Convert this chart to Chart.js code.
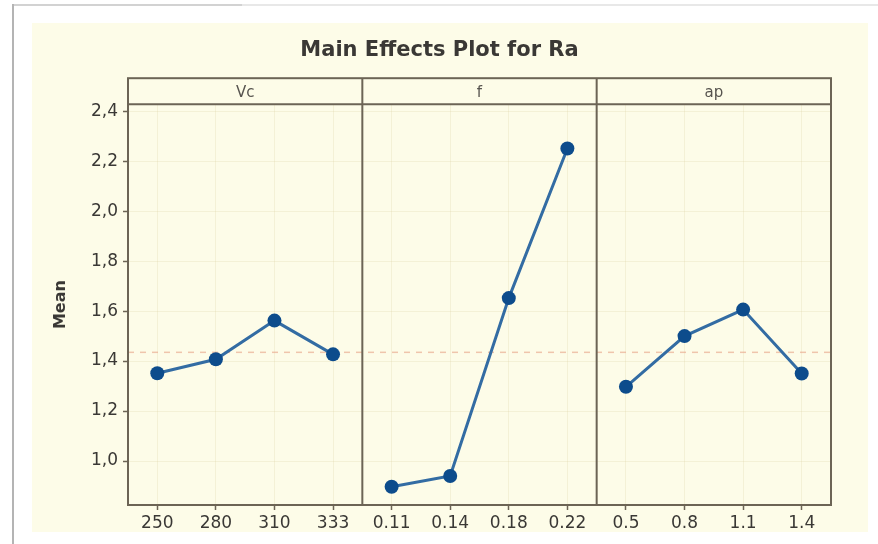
<!DOCTYPE html>
<html>
<head>
<meta charset="utf-8">
<script src="https://cdn.jsdelivr.net/npm/chart.js@4.4.1/dist/chart.umd.min.js"></script>
<style>
    body { margin: 0; background: #ffffff; }
    #wrap { position: relative; width: 878px; height: 544px; overflow: hidden; }
    #cream { position: absolute; left: 32px; top: 23px; width: 836px; height: 509px; background: #fdfce8; }
    #edge-left { position: absolute; left: 12px; top: 4px; width: 2px; height: 540px; background: #b4b4b4; }
    #edge-top { position: absolute; left: 12px; top: 4px; width: 866px; height: 2px; background: #e8e8e8; }
    #edge-top-dark { position: absolute; left: 12px; top: 4px; width: 230px; height: 2px; background: #d2d2d2; }
    canvas { position: absolute; left: 0; top: 0; }
</style>
</head>
<body>
<div id="wrap">
    <div id="cream"></div>
    <div id="edge-top"></div>
    <div id="edge-top-dark"></div>
    <div id="edge-left"></div>
    <canvas id="chart" width="878" height="544"></canvas>
</div>
<script>
const chartTitle = 'Main Effects Plot for Ra';
const yTitle = 'Mean';
const factorNames = ['Vc', 'f', 'ap'];

const vcLabels = ['250', '280', '310', '333'];
const fLabels = ['0.11', '0.14', '0.18', '0.22'];
const apLabels = ['0.5', '0.8', '1.1', '1.4'];

const vcMeans = [1.351, 1.407, 1.562, 1.427];
const fMeans = [0.897, 0.940, 1.652, 2.251];
const apMeans = [1.297, 1.500, 1.606, 1.350];

const yTicks = [1.0, 1.2, 1.4, 1.6, 1.8, 2.0, 2.2, 2.4];
const yMin = 0.824;
const yMax = 2.428;

// grand mean of all observations (same for every factor)
const grandMean = fMeans.reduce((a, b) => a + b, 0) / fMeans.length;

const FONT = "'DejaVu Sans', sans-serif";
const FRAME = '#6c6455';
const TEXT = '#3a3835';
const POINT = '#0d4c8c';
const LINE = '#336ca3';
const GRID = 'rgba(220, 208, 160, 0.25)';

const panelFrame = {
    id: 'panelFrame',
    beforeDatasetsDraw(chart) {
        const { ctx, chartArea, scales } = chart;
        const y = scales.y.getPixelForValue(grandMean);
        ctx.save();
        ctx.strokeStyle = 'rgba(232, 168, 140, 0.65)';
        ctx.lineWidth = 1.5;
        ctx.setLineDash([6, 6]);
        ctx.beginPath();
        ctx.moveTo(chartArea.left, y);
        ctx.lineTo(chartArea.right, y);
        ctx.stroke();
        ctx.restore();
    },
    afterDraw(chart) {
        const { ctx, chartArea, scales } = chart;
        const headTop = scales.hVc.top;
        ctx.save();
        ctx.strokeStyle = FRAME;
        ctx.lineWidth = 2;
        ctx.strokeRect(chartArea.left, headTop, chartArea.right - chartArea.left, chartArea.bottom - headTop);
        ctx.beginPath();
        ctx.moveTo(chartArea.left, chartArea.top);
        ctx.lineTo(chartArea.right, chartArea.top);
        [scales.xVc.right, scales.xF.right].forEach((x) => {
            ctx.moveTo(x, headTop);
            ctx.lineTo(x, chartArea.bottom);
        });
        ctx.stroke();
        ctx.restore();
    }
};

function bottomAxis(labels) {
    return {
        type: 'category',
        axis: 'x',
        position: 'bottom',
        stack: 'panels',
        labels: labels,
        offset: true,
        border: { display: false },
        grid: { color: GRID, tickColor: FRAME, tickLength: 5, tickWidth: 1.5 },
        ticks: { color: TEXT, font: { family: FONT, size: 17 }, padding: 3, maxRotation: 0, autoSkip: false },
        afterFit: (scale) => { scale.height = 31; }
    };
}

function headerAxis(text) {
    return {
        type: 'category',
        axis: 'x',
        position: 'top',
        stack: 'headers',
        labels: [text],
        border: { display: false },
        grid: { display: false },
        ticks: { display: false },
        title: { display: true, text: text, color: '#57544f', font: { family: FONT, size: 15 }, padding: { top: 6, bottom: 0 } },
        afterFit: (scale) => { scale.height = 26; }
    };
}

function panelDataset(values, axisId) {
    return {
        data: values,
        xAxisID: axisId,
        yAxisID: 'y',
        borderColor: LINE,
        borderWidth: 3,
        backgroundColor: POINT,
        pointBackgroundColor: POINT,
        pointBorderColor: POINT,
        pointRadius: 7,
        pointBorderWidth: 0,
        tension: 0,
        fill: false,
    };
}

new Chart(document.getElementById('chart').getContext('2d'), {
    type: 'line',
    data: {
        datasets: [
            panelDataset(vcMeans, 'xVc'),
            panelDataset(fMeans, 'xF'),
            panelDataset(apMeans, 'xAp'),
        ]
    },
    options: {
        responsive: false,
        animation: false,
        layout: { padding: { left: 48, right: 47, top: 0, bottom: 8 } },
        scales: {
            xVc: bottomAxis(vcLabels),
            xF: bottomAxis(fLabels),
            xAp: bottomAxis(apLabels),
            // top boxes are laid out in reverse, so the headers go last-first
            hAp: headerAxis(factorNames[2]),
            hF: headerAxis(factorNames[1]),
            hVc: headerAxis(factorNames[0]),
            y: {
                type: 'linear',
                position: 'left',
                min: yMin,
                max: yMax,
                border: { display: false },
                grid: { color: GRID, tickColor: FRAME, tickLength: 5, tickWidth: 1.5 },
                ticks: {
                    color: TEXT,
                    font: { family: FONT, size: 17 },
                    padding: 5,
                    callback: (value) => value.toFixed(1).replace('.', ',')
                },
                afterBuildTicks: (axis) => { axis.ticks = yTicks.map((v) => ({ value: v })); },
                title: { display: true, text: yTitle, color: TEXT, font: { family: FONT, size: 16, weight: 'bold' }, padding: { top: 3, bottom: 4 } },
                afterFit: (scale) => { scale.width = 80; }
            }
        },
        plugins: {
            legend: { display: false },
            tooltip: { enabled: false },
            title: {
                display: true,
                text: chartTitle,
                color: '#3a3835',
                font: { family: FONT, size: 21, weight: 'bold' },
                padding: { top: 38, bottom: 15 }
            }
        }
    },
    plugins: [panelFrame]
});
</script>
</body>
</html>
